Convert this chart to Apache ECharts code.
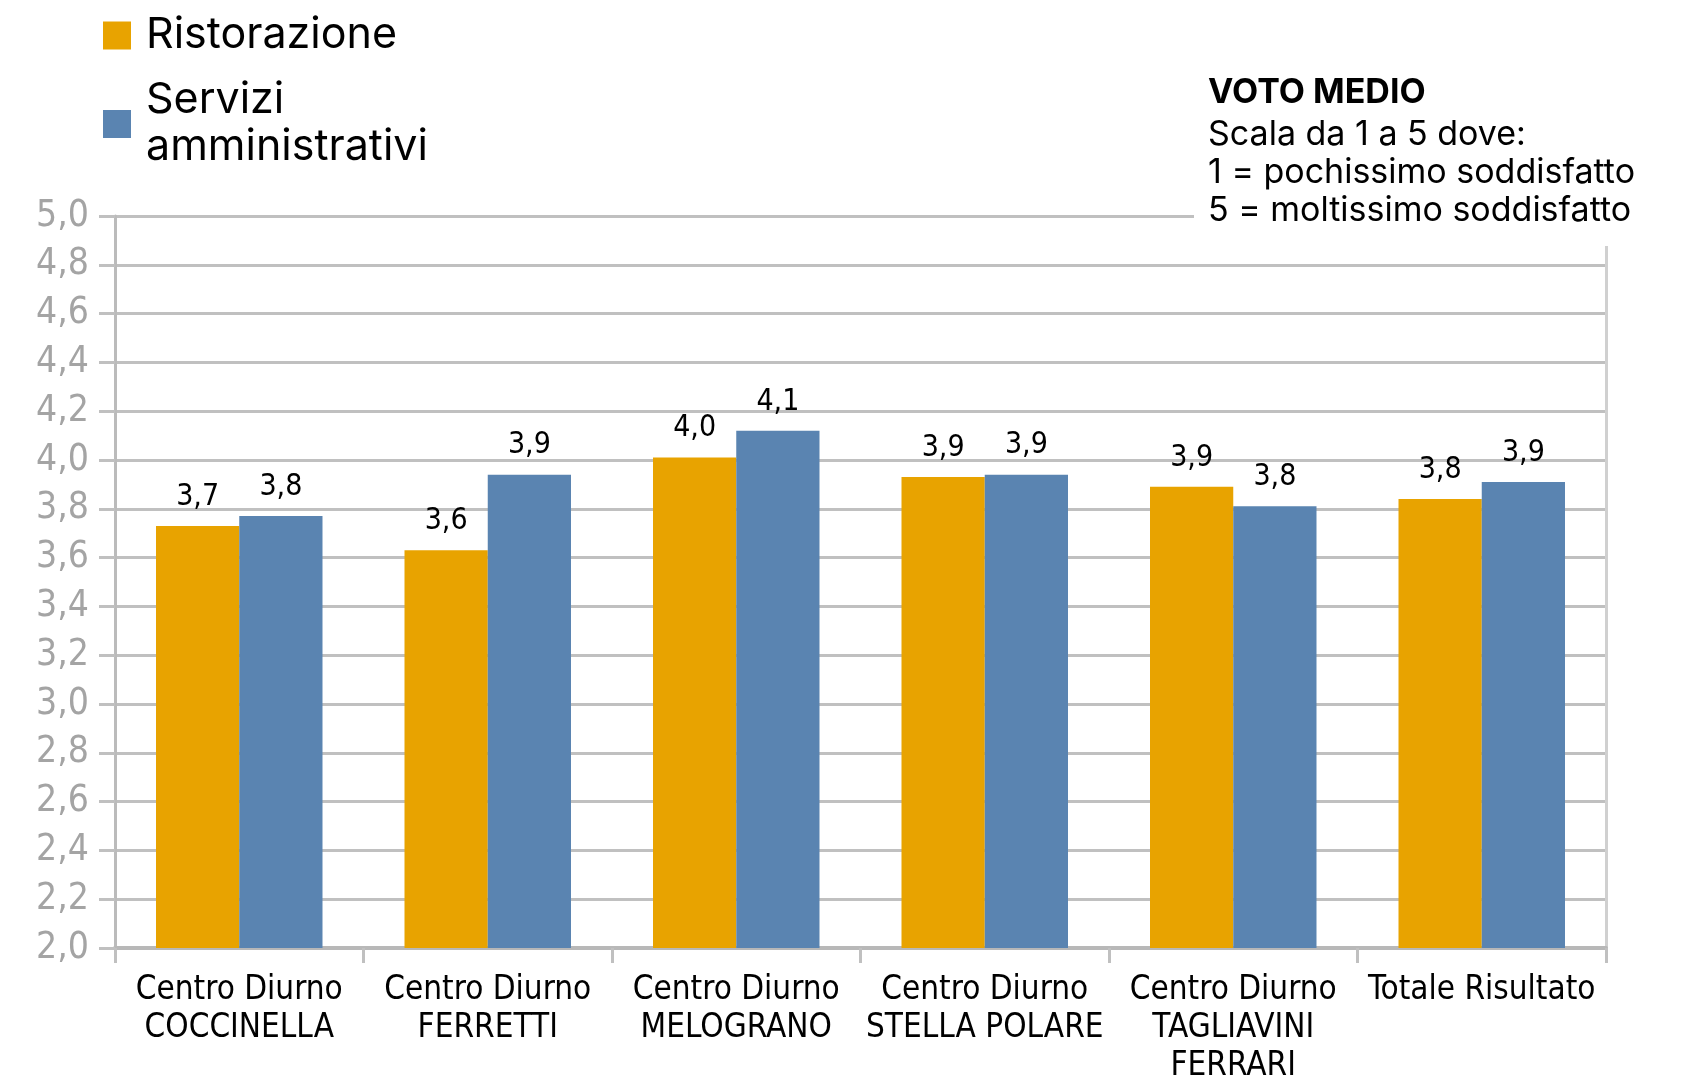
<!DOCTYPE html>
<html>
<head>
<meta charset="utf-8">
<script src="https://cdn.jsdelivr.net/npm/echarts@6/dist/echarts.min.js"></script>
<style>
  html, body { margin: 0; padding: 0; background: #fff; }
  #chart { width: 1687px; height: 1083px; }
</style>
</head>
<body>
<div id="chart"></div>
<script>
const categories = [
  'Centro Diurno\nCOCCINELLA',
  'Centro Diurno\nFERRETTI',
  'Centro Diurno\nMELOGRANO',
  'Centro Diurno\nSTELLA POLARE',
  'Centro Diurno\nTAGLIAVINI\nFERRARI',
  'Totale Risultato'
]
const ristorazione = [3.73, 3.63, 4.01, 3.93, 3.89, 3.84]
const serviziAmministrativi = [3.77, 3.94, 4.12, 3.94, 3.81, 3.91]

const condensed = "'DejaVu Sans Condensed', 'Liberation Sans Narrow', sans-serif"
const gridColor = '#c0c0c0'
const fmt = v => v.toFixed(1).replace('.', ',')

const myChart = echarts.init(document.getElementById('chart'))
myChart.setOption({
  animation: false,
  title: {
    text: 'VOTO MEDIO',
    subtext: 'Scala da 1 a 5 dove:\n1 = pochissimo soddisfatto\n5 = moltissimo soddisfatto',
    left: 1194,
    top: 62,
    backgroundColor: '#fff',
    padding: [14, 20, 16, 14],
    itemGap: 6,
    z: 10,
    textStyle: {
      fontFamily: 'Inter',
      fontWeight: 'bold',
      fontSize: 34,
      color: '#000'
    },
    subtextStyle: {
      fontFamily: 'Inter',
      fontSize: 34,
      lineHeight: 38,
      color: '#000'
    }
  },
  legend: {
    orient: 'vertical',
    left: 98,
    top: 7,
    itemWidth: 28,
    itemHeight: 28,
    itemGap: 18,
    icon: 'rect',
    data: ['Ristorazione', 'Servizi\namministrativi'],
    textStyle: {
      fontFamily: 'Inter',
      fontSize: 43,
      lineHeight: 47,
      color: '#000',
      padding: [0, 0, 0, 10]
    }
  },
  grid: {
    left: 115,
    right: 81,
    top: 216,
    bottom: 135,
    outerBoundsMode: 'none'
  },
  xAxis: {
    type: 'category',
    data: categories,
    axisLine: { lineStyle: { color: '#b8b8b8', width: 4 } },
    axisTick: { show: true, length: 15, lineStyle: { color: '#c0c0c0', width: 3 } },
    axisLabel: {
      interval: 0,
      margin: 23,
      fontFamily: condensed,
      fontSize: 33,
      lineHeight: 38,
      color: '#000'
    }
  },
  yAxis: [
    {
      type: 'value',
      min: 2,
      max: 5,
      interval: 0.2,
      axisLine: { show: true, lineStyle: { color: '#bbbbbb', width: 3 } },
      axisTick: { show: true, length: 16, lineStyle: { color: gridColor, width: 3 } },
      splitLine: { lineStyle: { color: gridColor, width: 3 } },
      axisLabel: {
        margin: 26,
        fontFamily: condensed,
        fontSize: 37,
        color: '#a4a4a4',
        formatter: v => fmt(v)
      }
    },
    {
      type: 'value',
      min: 2,
      max: 5,
      interval: 0.2,
      position: 'right',
      axisLine: { show: true, lineStyle: { color: '#d0d0d0', width: 3 } },
      axisTick: { show: false },
      axisLabel: { show: false },
      splitLine: { show: false }
    }
  ],
  series: [
    {
      name: 'Ristorazione',
      type: 'bar',
      data: ristorazione,
      barGap: '0%',
      barCategoryGap: '33%',
      itemStyle: { color: '#e8a300' },
      label: {
        show: true,
        position: 'top',
        distance: 14,
        fontFamily: condensed,
        fontSize: 30,
        color: '#000',
        formatter: p => fmt(p.value)
      }
    },
    {
      name: 'Servizi\namministrativi',
      type: 'bar',
      data: serviziAmministrativi,
      itemStyle: { color: '#5a84b1' },
      label: {
        show: true,
        position: 'top',
        distance: 14,
        fontFamily: condensed,
        fontSize: 30,
        color: '#000',
        formatter: p => fmt(p.value)
      }
    }
  ]
})
</script>
</body>
</html>
